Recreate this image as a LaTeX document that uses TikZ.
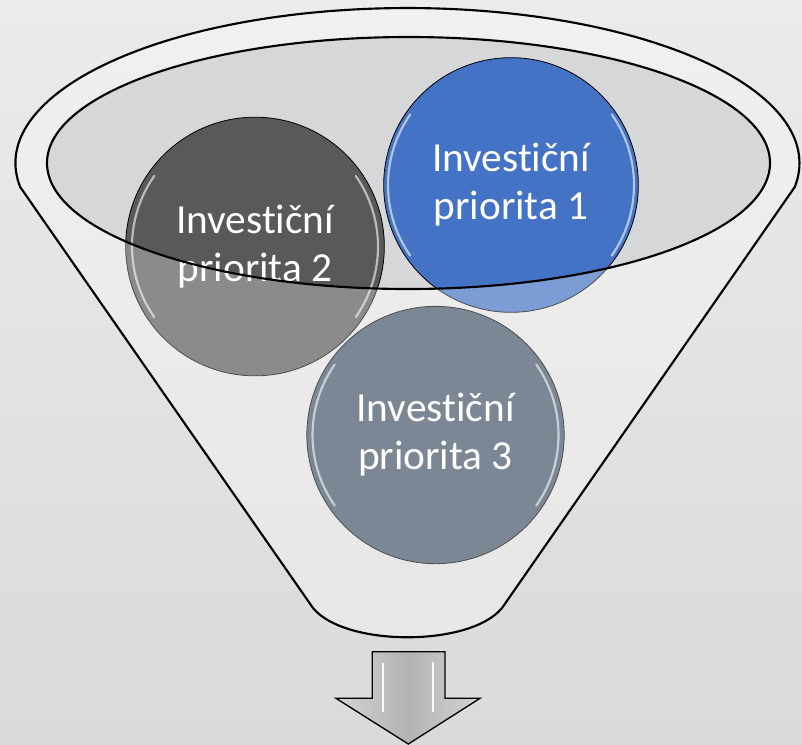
\documentclass[tikz,border=0pt]{standalone}
\usepackage{fontspec}
\setmainfont{Carlito}[Ligatures=NoCommon]
\usetikzlibrary{calc}
\definecolor{bgtop}{HTML}{EBEBEB}
\definecolor{bgbot}{HTML}{DADADA}
\definecolor{opening}{HTML}{D6D7D9}
\definecolor{prioblue}{HTML}{4472C4}
\definecolor{priodark}{HTML}{595959}
\definecolor{prioslate}{HTML}{44546A}
\definecolor{arrowgray}{HTML}{B2B3B5}
\definecolor{arrowlight}{HTML}{D2D3D5}
\tikzstyle{prio} = [circle, draw=black, line width=0.6pt, minimum size=191pt, inner sep=0pt, text=white, align=center, font=\fontsize{31}{36}\selectfont]
\tikzstyle{rim} = [draw=black, line width=1.6pt]
\tikzstyle{gloss} = [white, opacity=0.6, line width=1.6pt, line cap=round]

\begin{document}
\begin{tikzpicture}[x=0.75pt,y=-0.75pt]
      \pgfmathsetmacro{\Rin}{123};
      % background
      \shade[top color=bgtop, bottom color=bgbot] (0,0) rectangle (802,744);
      \useasboundingbox (0,0) rectangle (802,744);
      % opening of the funnel
      \fill[opening] (408.5,163) ellipse [x radius=361.5, y radius=126];
      % priorities
      \node[prio, fill=prioblue] (Prio1) at (511,185) {Investiční\\priorita 1};
      \node[prio, fill=priodark, minimum size=194pt] (Prio2) at (255,246.5) {Investiční\\priorita 2};
      \node[prio, fill=prioslate, minimum size=193pt] (Prio3) at (435.5,435) {Investiční\\priorita 3};
      \foreach \p in {Prio1,Prio2,Prio3} {
        \draw[gloss] ($(\p.center)+(145:\Rin)$) arc[start angle=145, end angle=215, radius=\Rin];
        \draw[gloss] ($(\p.center)+(-35:\Rin)$) arc[start angle=-35, end angle=35, radius=\Rin];
      }
      %
      \coordinate (RimL) at (20.2,187);
      \path[rim, fill=white, fill opacity=0.3, even odd rule] (RimL) arc[start angle=171.1, end angle=368.9, x radius=392, y radius=155]
        -- (502,608) .. controls (470,647) and (345,647) .. (313,608) -- cycle
        (408.5,163) ellipse [x radius=361.5, y radius=126];
      % arrow out of the funnel
      \shadedraw[left color=arrowlight, right color=arrowlight, middle color=arrowgray, draw=black, line width=1pt]
        (372.3,651.7) -- (445,651.7) -- (445,698.3) -- (480,698.3) -- (408.3,744) -- (336,698.3) -- (372.3,698.3) -- cycle;
      \draw[white, line width=1.5pt, opacity=0.9] (383.3,663) -- (383.3,712) (433.3,662) -- (433.3,712);
    \end{tikzpicture}
\end{document}
